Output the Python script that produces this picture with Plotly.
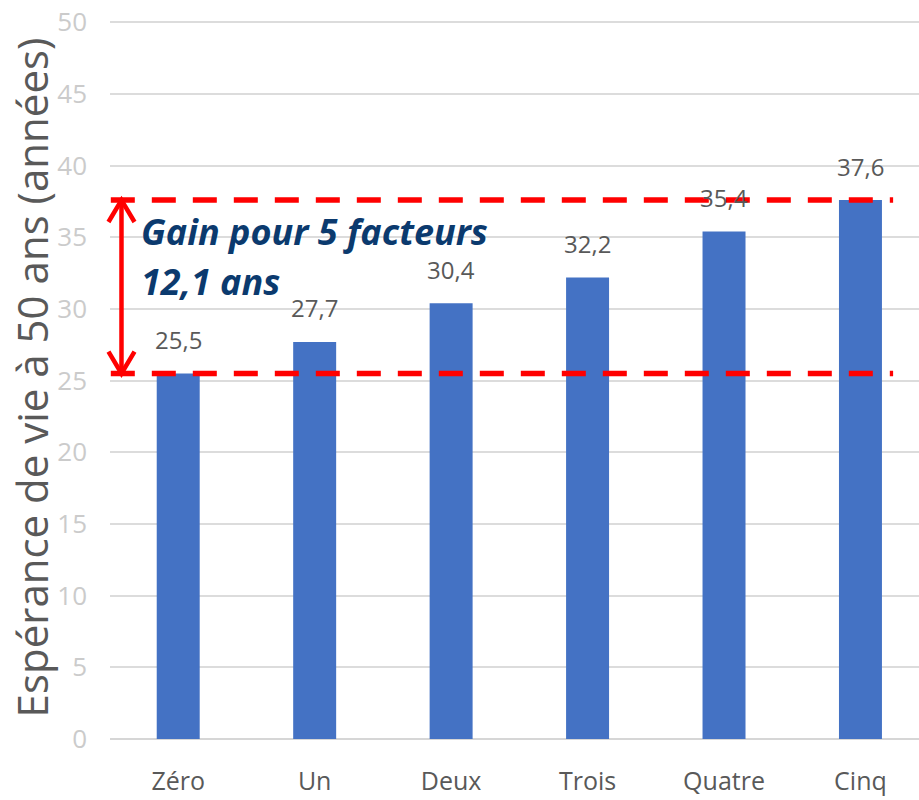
import plotly.graph_objects as go

# Espérance de vie à 50 ans selon le nombre de facteurs de mode de vie sain
categories = ["Zéro", "Un", "Deux", "Trois", "Quatre", "Cinq"]
values = [25.5, 27.7, 30.4, 32.2, 35.4, 37.6]
y_ticks = [0, 5, 10, 15, 20, 25, 30, 35, 40, 45, 50]
y_title = "Espérance de vie à 50 ans (années)"
gain_line1 = "Gain pour 5 facteurs"
gain_line2 = "12,1 ans"

Y_MAX = 51
BAR_COLOR = "#4472C4"
RED = "#ff0000"
NAVY = "#0b3a6e"
GREY_TEXT = "#595959"

low, high = values[0], values[-1]

fig = go.Figure()
fig.add_trace(go.Bar(
    x=list(range(len(categories))),
    y=values,
    marker=dict(color=BAR_COLOR, line=dict(width=0)),
    width=0.315,
    hoverinfo="skip",
))

# value labels above each bar, French decimal comma
for i, v in enumerate(values):
    fig.add_annotation(
        x=i, y=v, xref="x", yref="y",
        text=f"{v:.1f}".replace(".", ","),
        showarrow=False, yanchor="middle", yshift=34,
        font=dict(family="Open Sans", size=24, color=GREY_TEXT),
    )

def py(v):
    return v / Y_MAX

# dashed reference lines at the lowest and highest values
for v in (low, high):
    fig.add_shape(
        type="line", xref="paper", yref="paper",
        x0=0.001, x1=0.968, y0=py(v), y1=py(v),
        line=dict(color=RED, width=5.5, dash="24px,17px"),
        layer="above",
    )

# double-headed arrow between the two lines
ax = 0.0142
dx = 0.0161
dy = 0.030
fig.add_shape(type="line", xref="paper", yref="paper",
              x0=ax, x1=ax, y0=py(low) + 0.003, y1=py(high) - 0.003,
              line=dict(color=RED, width=4.5), layer="above")
fig.add_shape(type="path", xref="paper", yref="paper",
              path=f"M {ax-dx},{py(high)-dy} L {ax},{py(high)} L {ax+dx},{py(high)-dy}",
              line=dict(color=RED, width=4.5), layer="above")
fig.add_shape(type="path", xref="paper", yref="paper",
              path=f"M {ax-dx},{py(low)+dy} L {ax},{py(low)} L {ax+dx},{py(low)+dy}",
              line=dict(color=RED, width=4.5), layer="above")

fig.add_annotation(
    x=0.036, y=0.6936, xref="paper", yref="paper",
    text=f"<b><i>{gain_line1}</i></b>", showarrow=False,
    xanchor="left", yanchor="middle",
    font=dict(family="Open Sans", size=36, color=NAVY),
)
fig.add_annotation(
    x=0.036, y=0.6252, xref="paper", yref="paper",
    text=f"<b><i>{gain_line2}</i></b>", showarrow=False,
    xanchor="left", yanchor="middle",
    font=dict(family="Open Sans", size=36, color=NAVY),
)

# rotated y-axis title
fig.add_annotation(
    x=-0.097, y=0.494, xref="paper", yref="paper",
    text=y_title, showarrow=False, textangle=-90,
    xanchor="center", yanchor="middle",
    font=dict(family="Open Sans", size=42, color=GREY_TEXT),
)

fig.update_layout(
    width=919, height=800,
    margin=dict(l=110, r=0, t=8, b=61),
    paper_bgcolor="white", plot_bgcolor="white",
    showlegend=False,
    bargap=0.685,
    xaxis=dict(
        range=[-0.5, 5.429],
        tickmode="array",
        tickvals=list(range(len(categories))),
        ticktext=categories,
        ticks="", showgrid=False, showline=False, zeroline=False,
        tickfont=dict(family="Open Sans", size=25, color=GREY_TEXT),
        ticklabelstandoff=25,
    ),
    yaxis=dict(
        range=[0, Y_MAX],
        tickmode="array",
        tickvals=y_ticks,
        ticktext=[str(t) for t in y_ticks],
        ticks="", showline=False,
        showgrid=True, gridcolor="#dcdcdc", gridwidth=1.5,
        zeroline=True, zerolinecolor="#d6d6d6", zerolinewidth=1.5,
        tickfont=dict(family="Open Sans", size=26, color="#cbcbcb"),
        ticklabelstandoff=22,
    ),
)

fig.write_html("out.html")
